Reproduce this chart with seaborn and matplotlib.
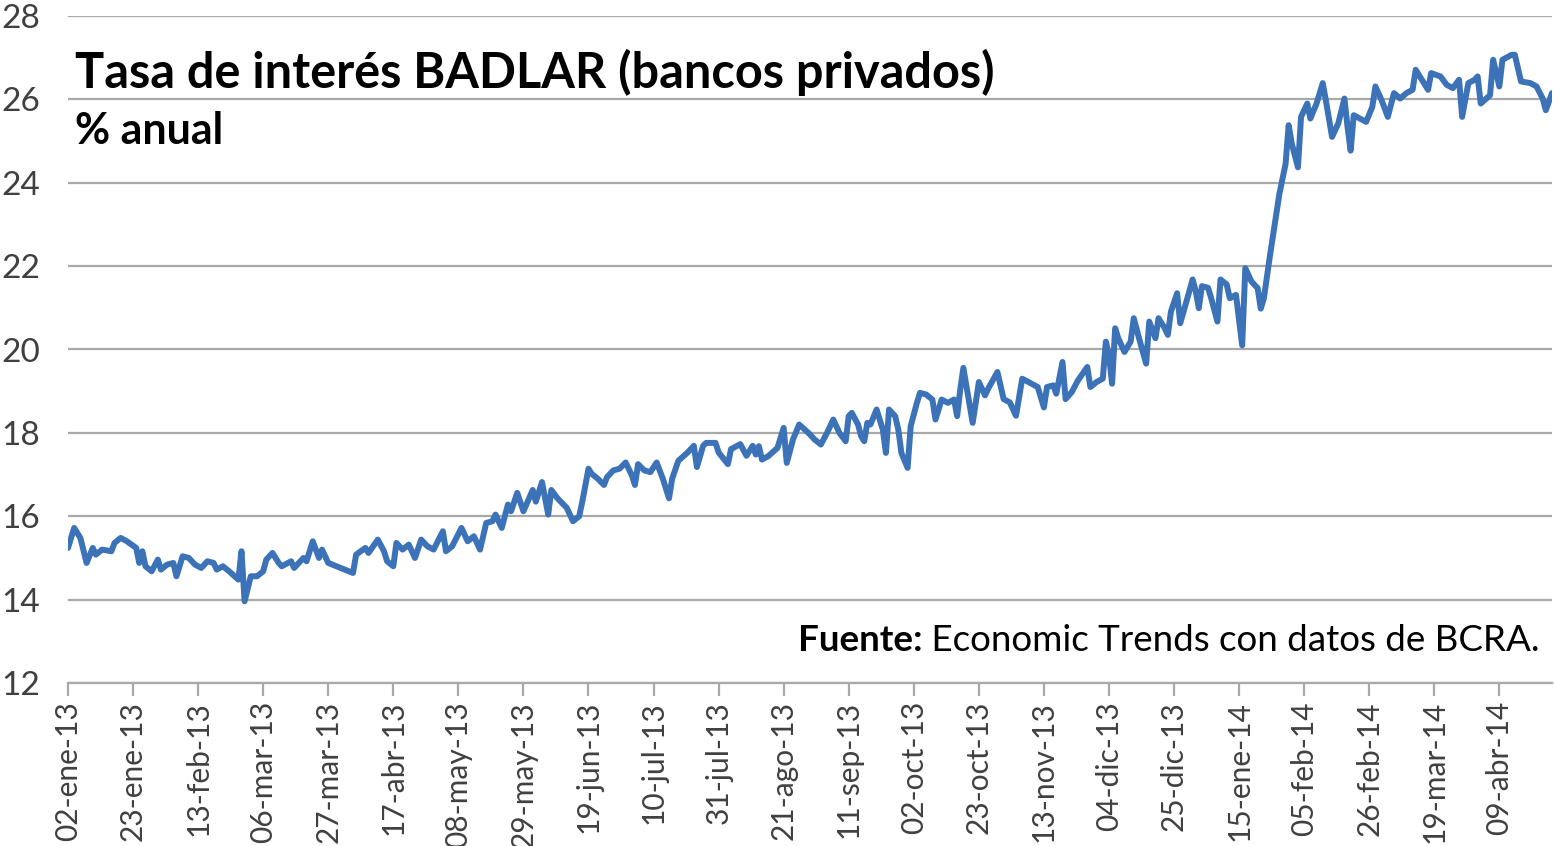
import numpy as np
import pandas as pd
import matplotlib
matplotlib.use("Agg")
import matplotlib.pyplot as plt
import seaborn as sns

# ---------------- data ----------------
start_date = "2013-01-02"

day_offset = [
    0, 2, 4, 6, 8, 9, 11, 14, 15, 17, 19, 22, 23, 24, 25, 27, 29, 30, 32, 34,
    35, 37, 39, 41, 43, 45, 47, 48, 50, 52, 55, 56, 57, 59, 61, 63, 64, 66, 68, 69,
    72, 73, 76, 77, 79, 81, 82, 84, 88, 92, 93, 96, 97, 100, 102, 103, 105, 106, 108, 110,
    112, 114, 116, 118, 121, 122, 124, 127, 129, 131, 133, 135, 137, 138, 140, 142, 143, 145,
    147, 150, 151, 153, 155, 156, 158, 161, 163, 165, 166, 168, 169, 171, 173, 174, 176, 178,
    180, 182, 183, 184, 186, 188, 190, 192, 194, 195, 197, 200, 202, 203, 205, 206, 209, 210,
    213, 214, 217, 219, 221, 222, 223, 224, 226, 229, 231, 232, 234, 236, 239, 241, 243, 245,
    247, 249, 251, 252, 253, 255, 256, 257, 258, 259, 261, 263, 264, 265, 267, 268, 269, 271,
    272, 274, 275, 277, 279, 280, 282, 284, 286, 287, 288, 289, 290, 292, 293, 294, 296, 297,
    300, 302, 304, 306, 308, 310, 311, 313, 315, 316, 318, 319, 321, 322, 324, 326, 329, 330,
    332, 334, 335, 336, 337, 338, 339, 341, 343, 344, 346, 348, 349, 351, 352, 354, 355, 356,
    358, 359, 361, 363, 364, 365, 366, 368, 369, 371, 372, 374, 375, 377, 379, 380, 382, 384,
    385, 386, 388, 389, 391, 393, 394, 395, 397, 398, 400, 401, 403, 405, 406, 408, 410, 412,
    413, 414, 415, 417, 419, 421, 422, 424, 426, 428, 430, 432, 434, 435, 437, 439, 440, 443,
    445, 447, 449, 450, 452, 454, 455, 456, 459, 460, 462, 463, 466, 467, 469, 472, 474, 476,
    477, 479,
]

tasa = [
    15.24, 15.72, 15.48, 14.88, 15.24, 15.08, 15.20, 15.16, 15.36, 15.48, 15.40, 15.24, 14.88, 15.16, 14.80, 14.68, 14.96, 14.72, 14.84, 14.88,
    14.56, 15.04, 15.00, 14.84, 14.76, 14.92, 14.88, 14.72, 14.80, 14.68, 14.48, 15.16, 13.96, 14.56, 14.56, 14.68, 14.96, 15.12, 14.88, 14.80,
    14.92, 14.76, 15.00, 14.92, 15.40, 15.00, 15.20, 14.88, 14.76, 14.64, 15.08, 15.24, 15.12, 15.44, 15.16, 14.92, 14.80, 15.36, 15.20, 15.32,
    15.00, 15.44, 15.28, 15.20, 15.64, 15.16, 15.28, 15.72, 15.40, 15.52, 15.20, 15.84, 15.88, 16.04, 15.72, 16.28, 16.12, 16.56,
    16.12, 16.63, 16.35, 16.82, 16.04, 16.63, 16.43, 16.20, 15.88, 16.00, 16.35, 17.14, 17.02, 16.90, 16.75, 16.94, 17.10, 17.14,
    17.29, 16.98, 16.75, 17.25, 17.10, 17.06, 17.29, 16.90, 16.43, 16.90, 17.33, 17.53, 17.69, 17.18, 17.69, 17.76, 17.76, 17.53,
    17.25, 17.61, 17.73, 17.45, 17.69, 17.48, 17.68, 17.36, 17.44, 17.64, 18.12, 17.28, 17.84, 18.20, 18.00, 17.84, 17.72, 18.00,
    18.32, 18.00, 17.80, 18.40, 18.48, 18.20, 17.92, 17.80, 18.24, 18.20, 18.56, 18.08, 17.52, 18.56, 18.40, 18.08, 17.52, 17.16,
    18.16, 18.72, 18.96, 18.92, 18.80, 18.32, 18.80, 18.72, 18.80, 18.40, 19.04, 19.56, 19.12, 18.24, 18.72, 19.22, 18.90, 19.06,
    19.46, 18.81, 18.73, 18.41, 19.30, 19.22, 19.18, 19.10, 18.61, 19.10, 19.14, 18.94, 19.70, 18.81, 18.98, 19.26, 19.58, 19.10,
    19.22, 19.30, 20.19, 19.86, 19.18, 20.51, 20.27, 19.94, 20.19, 20.75, 20.19, 19.66, 20.67, 20.27, 20.75, 20.51, 20.35, 20.91,
    21.35, 20.63, 21.15, 21.68, 21.40, 20.99, 21.52, 21.48, 21.23, 20.67, 21.68, 21.56, 21.23, 21.31, 20.10, 21.95, 21.63, 21.47,
    20.98, 21.23, 22.27, 22.76, 23.73, 24.45, 25.38, 24.94, 24.37, 25.58, 25.90, 25.54, 25.90, 26.39, 25.98, 25.10, 25.42, 26.02,
    25.34, 24.77, 25.62, 25.54, 25.46, 25.82, 26.31, 25.98, 25.58, 26.15, 26.02, 26.15, 26.23, 26.71, 26.47, 26.23, 26.63, 26.55,
    26.35, 26.27, 26.47, 25.58, 26.39, 26.47, 26.55, 25.90, 26.10, 26.95, 26.31, 26.95, 27.07, 27.07, 26.43, 26.39, 26.31, 26.02,
    25.74, 26.15,
]

tick_labels = [
    "02-ene-13", "23-ene-13", "13-feb-13", "06-mar-13", "27-mar-13", "17-abr-13",
    "08-may-13", "29-may-13", "19-jun-13", "10-jul-13", "31-jul-13", "21-ago-13",
    "11-sep-13", "02-oct-13", "23-oct-13", "13-nov-13", "04-dic-13", "25-dic-13",
    "15-ene-14", "05-feb-14", "26-feb-14", "19-mar-14", "09-abr-14",
]
y_ticks = [12, 14, 16, 18, 20, 22, 24, 26, 28]

title_text = "Tasa de interés BADLAR (bancos privados)"
subtitle_text = "% anual"
source_bold = "Fuente:"
source_rest = " Economic Trends con datos de BCRA."

# ---------------- figure ----------------
sns.set_theme(style="white")
plt.rcParams["font.family"] = ["Lato", "DejaVu Sans"]

W, H = 1554, 846
fig = plt.figure(figsize=(W / 100, H / 100), dpi=100)
fig.patch.set_facecolor("white")
ax = fig.add_axes([68 / W, (H - 683) / H, (1552 - 68) / W, (683 - 16) / H])

dates = pd.Timestamp(start_date) + pd.to_timedelta(day_offset, unit="D")
df = pd.DataFrame({"fecha": dates, "tasa": tasa})

sns.lineplot(data=df, x="fecha", y="tasa", ax=ax, color="#3c72b8",
             linewidth=4.3, zorder=3)

tick_dates = pd.date_range(start_date, periods=len(tick_labels), freq="21D")
ax.set_xticks(tick_dates)
ax.set_xticklabels(tick_labels, rotation=90, va="top", ha="center")
ax.set_xlim(pd.Timestamp(start_date), pd.Timestamp(start_date) + pd.Timedelta(days=479))
ax.set_ylim(12, 28)
ax.set_yticks(y_ticks)
ax.set_yticklabels([str(v) for v in y_ticks])
ax.set_xlabel("")
ax.set_ylabel("")

ax.grid(axis="y", color="#a9a9a9", linewidth=1.6, zorder=0)
ax.grid(axis="x", visible=False)
for s in ["left", "right", "top"]:
    ax.spines[s].set_visible(False)
ax.spines["bottom"].set_color("#a9a9a9")
ax.spines["bottom"].set_linewidth(1.6)

ax.tick_params(axis="x", direction="out", length=9, width=1.6, color="#a9a9a9",
               labelsize=21.5, labelcolor="#404040", pad=4, bottom=True)
ax.tick_params(axis="y", length=0, labelsize=24, labelcolor="#404040", pad=20)

fig.text(75 / W, 1 - 88 / H, title_text, fontsize=35, fontweight="bold",
         color="black", va="baseline", ha="left")
fig.text(75 / W, 1 - 144 / H, subtitle_text, fontsize=31, fontweight="bold",
         color="black", va="baseline", ha="left")

t_rest = fig.text(1540 / W, 1 - 651 / H, source_rest, fontsize=26.5,
                  color="black", va="baseline", ha="right")
fig.canvas.draw()
bb = t_rest.get_window_extent(renderer=fig.canvas.get_renderer())
fig.text(bb.x0 / W, 1 - 651 / H, source_bold, fontsize=26.5, fontweight="bold",
         color="black", va="baseline", ha="right")

fig.savefig("out.png", dpi=100, facecolor="white")
